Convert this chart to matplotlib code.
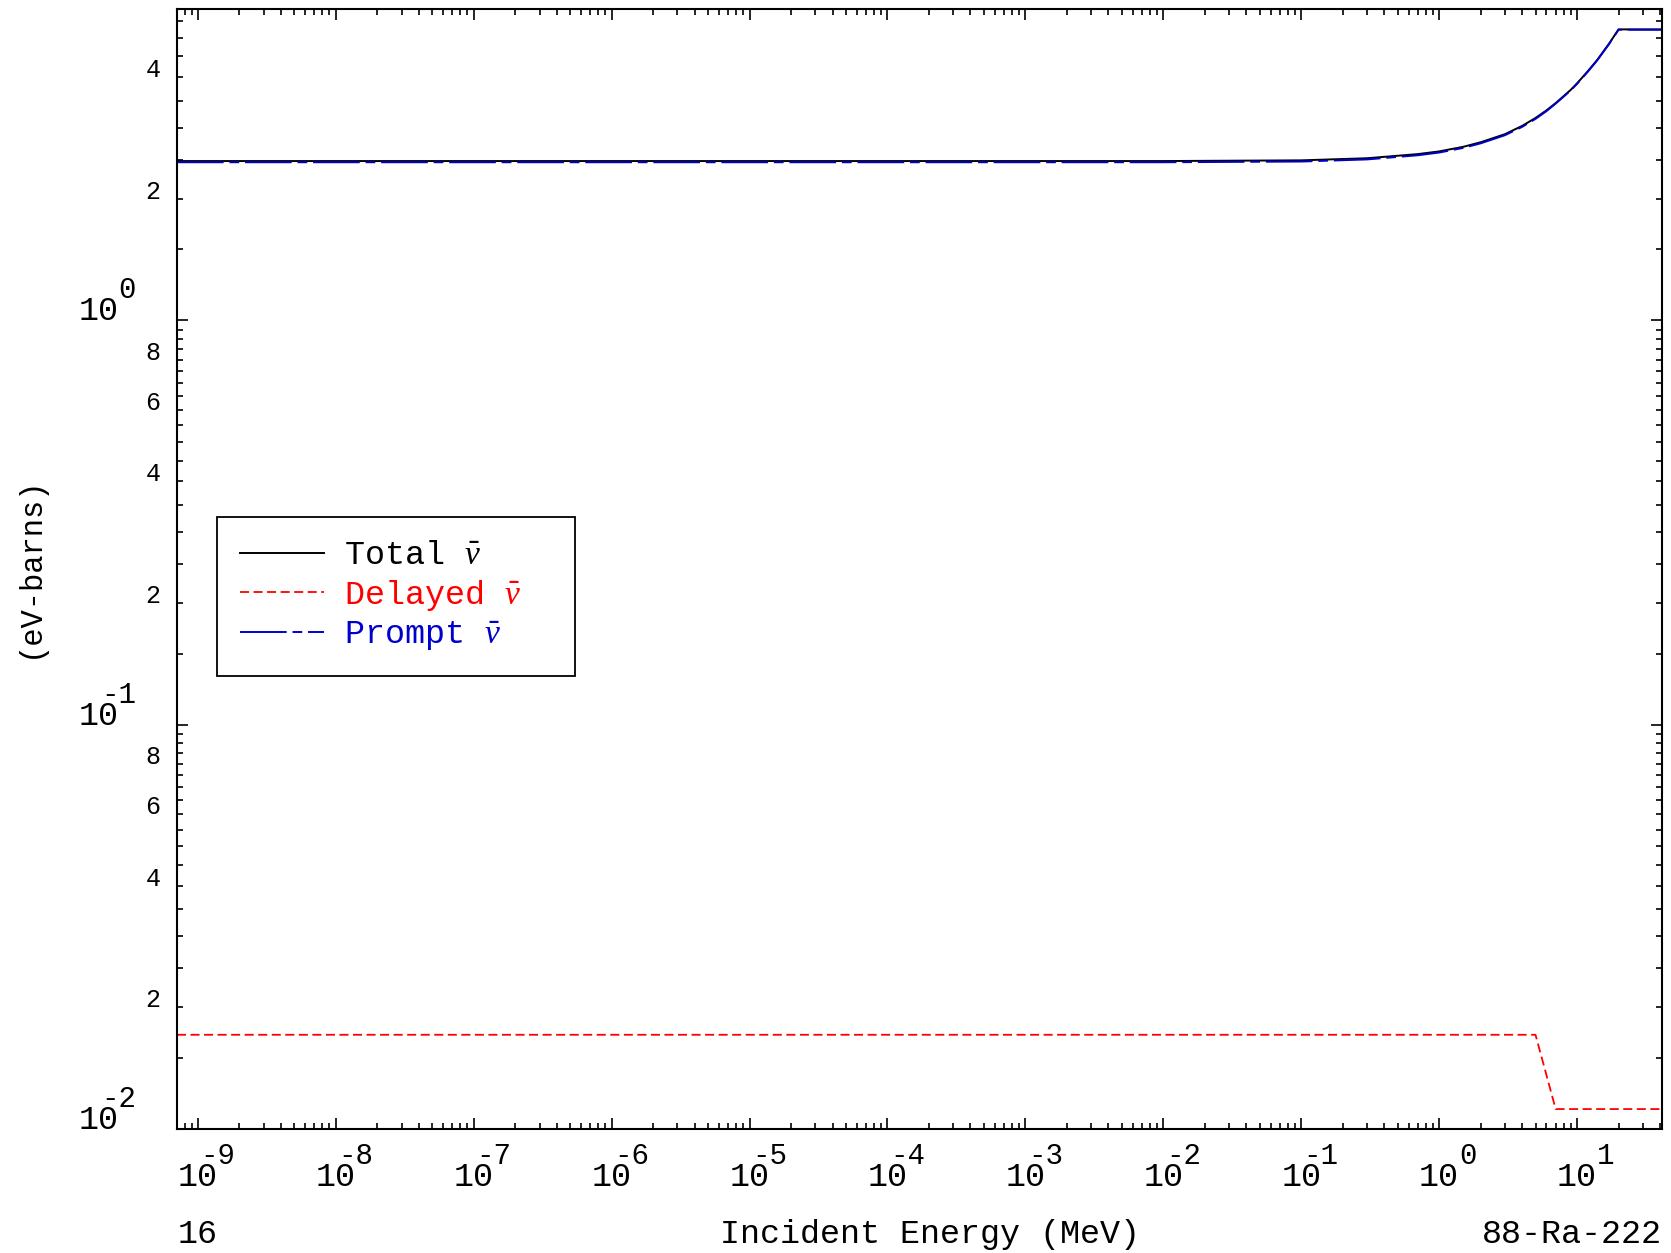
import numpy as np
import matplotlib
matplotlib.use("Agg")
import matplotlib.pyplot as plt
from matplotlib.ticker import LogLocator, NullFormatter

plt.rcParams["font.family"] = ["Liberation Mono", "DejaVu Sans"]
plt.rcParams["mathtext.fontset"] = "custom"
plt.rcParams["mathtext.rm"] = "Liberation Mono"
plt.rcParams["mathtext.it"] = "Liberation Serif:italic"

# values (energy in MeV)
energy = [7.05e-10, 1e-3, 1e-2, 0.1, 0.3, 0.7, 1, 1.5, 2, 3, 4, 5, 6, 7, 8, 9,
          10, 12, 14, 17, 20, 41.3]
nu_total = [2.48, 2.48, 2.48, 2.49, 2.52, 2.58, 2.62, 2.69, 2.76, 2.89, 3.03,
            3.17, 3.31, 3.45, 3.59, 3.72, 3.86, 4.14, 4.41, 4.83, 5.25, 5.25]
nu_prompt = [2.463, 2.463, 2.463, 2.473, 2.503, 2.563, 2.603, 2.673, 2.743,
             2.873, 3.013, 3.153, 3.295, 3.44, 3.58, 3.71, 3.85, 4.13, 4.40,
             4.82, 5.24, 5.24]
energy_delayed = [7.05e-10, 5.0, 7.0, 41.3]
nu_delayed = [0.0171, 0.0171, 0.0112, 0.0112]

x_decades = list(range(-9, 2))
y_decades = [-2, -1, 0]
y_minor_labels = [2, 4, 6, 8]

fig = plt.figure(figsize=(16.71, 12.53), dpi=100)
ax = fig.add_axes([0.1059, 0.0990, 0.8887, 0.8939])

ax.plot(energy, nu_total, color="black", lw=1.4, label=r"Total $\bar{\nu}$")
ax.plot(energy_delayed, nu_delayed, color="red", lw=1.3,
        linestyle=(0, (5, 2.5)), label=r"Delayed $\bar{\nu}$")
ax.plot(energy, nu_prompt, color="#0000cc", lw=1.4,
        linestyle=(0, (24, 3, 5, 3)), label=r"Prompt $\bar{\nu}$")

ax.set_xscale("log")
ax.set_yscale("log")
ax.set_xlim(7.05e-10, 41.3)
ax.set_ylim(0.01, 5.9)

ax.xaxis.set_major_locator(LogLocator(base=10, numticks=30))
ax.xaxis.set_minor_locator(LogLocator(base=10, subs=np.arange(2, 10), numticks=30))
ax.yaxis.set_major_locator(LogLocator(base=10, numticks=10))
ax.yaxis.set_minor_locator(LogLocator(base=10, subs=np.arange(1.5, 10, 0.5), numticks=10))
for axis in (ax.xaxis, ax.yaxis):
    axis.set_major_formatter(NullFormatter())
    axis.set_minor_formatter(NullFormatter())

ax.tick_params(which="both", direction="in", top=True, right=True, width=1.2)
ax.tick_params(which="major", length=8)
ax.tick_params(which="minor", length=4)
for s in ax.spines.values():
    s.set_linewidth(1.5)

FS = 24      # base "10"
FE = 21      # exponent
RAISE = 16   # exponent baseline above the "10" baseline, points
half10 = 0.6 * FS
adv_e = 0.6 * FE


def exp_text(e):
    return "-%d" % abs(e) if e < 0 else "%d" % e


# x tick labels: "10" centred on the tick, exponent with the minus over the 0
for e in x_decades:
    xy = (10.0 ** e, 0)
    kw = dict(xycoords=("data", "axes fraction"), textcoords="offset points",
              va="baseline", ha="left")
    ax.annotate("10", xy, xytext=(-half10, -41), fontsize=FS, **kw)
    dx = half10 - adv_e if e < 0 else half10
    ax.annotate(exp_text(e), xy, xytext=(dx, -41 + RAISE), fontsize=FE, **kw)

# y tick labels: baseline sits on the tick
for e in y_decades:
    xy = (0, 10.0 ** e)
    kw = dict(xycoords=("axes fraction", "data"), textcoords="offset points",
              va="baseline", ha="left")
    ax.annotate("10", xy, xytext=(-42 - 2 * half10, 0), fontsize=FS, **kw)
    dx = -42 - adv_e if e < 0 else -42
    ax.annotate(exp_text(e), xy, xytext=(dx, RAISE), fontsize=FE, **kw)
    for m in y_minor_labels:
        v = m * 10.0 ** e
        if v < 5.9:
            ax.annotate(str(m), (0, v), xycoords=("axes fraction", "data"),
                        xytext=(-12, 0), textcoords="offset points",
                        fontsize=18, ha="right", va="baseline")

leg = ax.legend(loc="upper left", bbox_to_anchor=(0.0269, 0.40, 0.241, 0.1464),
                mode="expand", fontsize=FS, frameon=True, fancybox=False,
                framealpha=1, edgecolor="black", handlelength=2.5,
                handletextpad=0.6, labelspacing=0.2, borderpad=0.7,
                borderaxespad=0)
leg.get_frame().set_linewidth(1.3)
for t, c in zip(leg.get_texts(), ["black", "red", "#0000cc"]):
    t.set_color(c)

fig.text(0.0180, 0.548, "(eV-barns)", rotation=90, ha="center", va="center",
         fontsize=22)
fig.text(0.5566, 0.008, "Incident Energy (MeV)", ha="center", va="baseline",
         fontsize=FS)
fig.text(0.1065, 0.008, "16", ha="left", va="baseline", fontsize=FS)
fig.text(0.9946, 0.008, "88-Ra-222", ha="right", va="baseline", fontsize=FS)

fig.savefig("out.png", dpi=100)
